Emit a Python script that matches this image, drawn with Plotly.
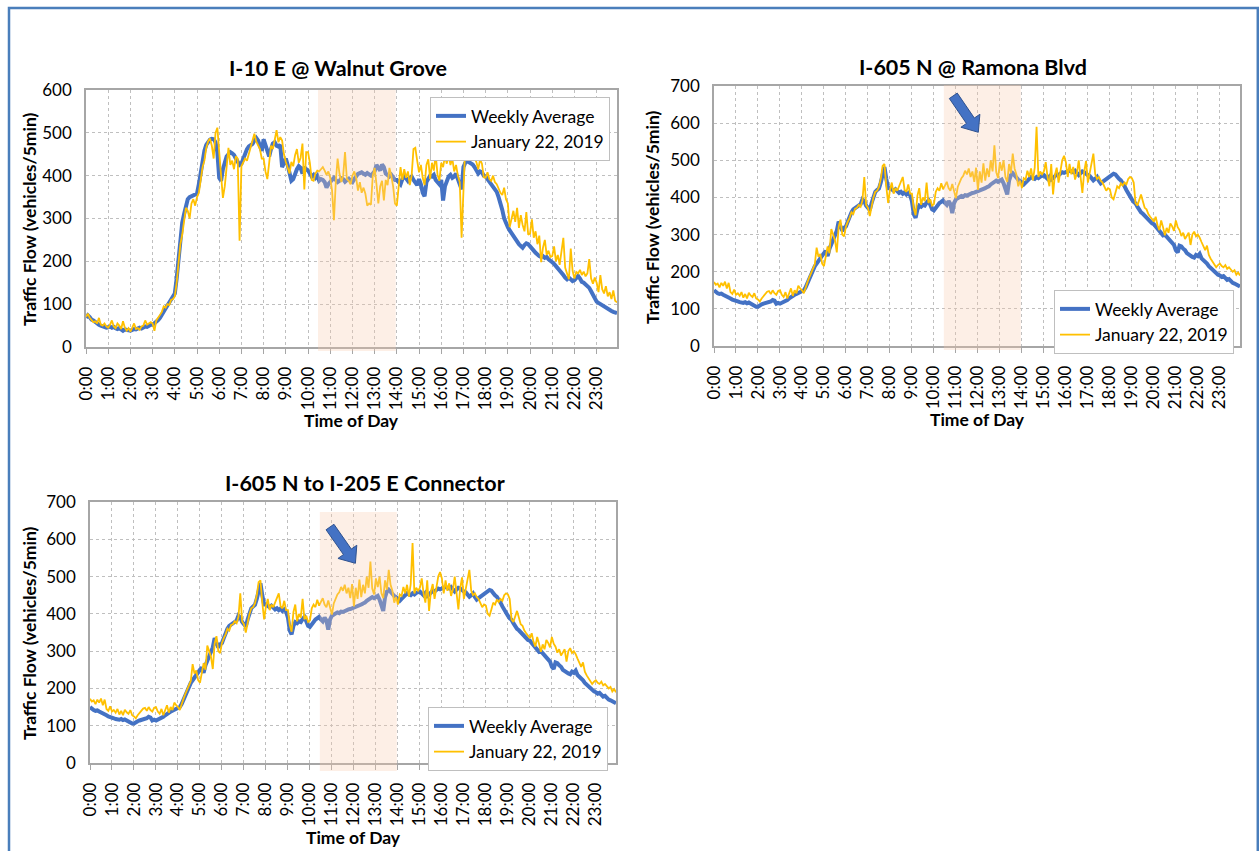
import math
import plotly.graph_objects as go

W, H = 1259, 851

# ---------------- data (vehicles / 5 min, one row per hour, 5-minute steps) ----------------
HOUR_LABELS = ["0:00", "1:00", "2:00", "3:00", "4:00", "5:00", "6:00", "7:00", "8:00", "9:00",
               "10:00", "11:00", "12:00", "13:00", "14:00", "15:00", "16:00", "17:00", "18:00",
               "19:00", "20:00", "21:00", "22:00", "23:00"]
STEPS_PER_HOUR = 12

WALNUT_AVG = [
    68, 74, 70, 64, 62, 58, 56, 52, 50, 48, 46, 45,
    46, 48, 45, 47, 44, 42, 44, 40, 38, 41, 40, 38,
    38, 40, 42, 41, 44, 45, 43, 46, 48, 47, 50, 52,
    52, 55, 58, 63, 68, 74, 82, 90, 97, 105, 112, 118,
    125, 160, 210, 260, 290, 310, 330, 345, 350, 352, 352, 355,
    358, 380, 410, 435, 458, 472, 480, 484, 486, 485, 478, 455,
    395, 388, 415, 435, 445, 450, 455, 452, 448, 440, 430, 425,
    428, 440, 452, 462, 468, 470, 474, 482, 488, 482, 470, 458,
    485, 470, 455, 445, 462, 475, 478, 470, 468, 472, 420, 430,
    440, 425, 405, 388, 392, 405, 415, 422, 418, 405, 420, 415,
    412, 405, 398, 402, 395, 400, 388, 392, 390, 385, 372, 380,
    386, 392, 395, 390, 385, 388, 394, 392, 386, 390, 393, 388,
    385, 392, 400, 404, 406, 408, 405, 402, 406, 404, 400, 405,
    410, 425, 418, 412, 426, 420, 405, 400, 398, 402, 396, 390,
    390, 385, 380, 392, 398, 394, 388, 395, 398, 390, 385, 378,
    392, 380, 360, 352, 385, 395, 400, 398, 402, 390, 385, 380,
    390, 342, 375, 390, 398, 402, 395, 398, 405, 392, 380, 368,
    420, 430, 434, 432, 430, 426, 420, 412, 405, 410, 408, 400,
    398, 392, 386, 380, 376, 370, 362, 350, 338, 320, 300, 288,
    280, 272, 265, 258, 250, 246, 240, 236, 232, 238, 242, 240,
    236, 230, 225, 220, 215, 212, 210, 212, 208, 210, 205, 200,
    198, 194, 188, 184, 178, 172, 168, 162, 158, 162, 158, 154,
    156, 162, 166, 160, 152, 150, 146, 142, 138, 130, 122, 112,
    106, 103, 100, 98, 95, 92, 88, 86, 84, 82, 80, 79,
]

WALNUT_JAN22 = [
    70, 78, 68, 62, 58, 60, 55, 68, 52, 50, 55, 48,
    45, 52, 62, 48, 44, 55, 50, 42, 60, 45, 38, 44,
    36, 45, 55, 42, 44, 40, 48, 50, 62, 52, 55, 58,
    55, 38, 62, 70, 75, 82, 95, 92, 100, 98, 110, 112,
    118, 150, 190, 240, 262, 300, 325, 318, 300, 335, 345, 330,
    350, 360, 388, 420, 435, 465, 480, 487, 470, 440, 500, 512,
    455, 400, 348, 375, 430, 465, 425, 435, 415, 445, 440, 248,
    422, 430, 440, 435, 450, 462, 480, 498, 480, 470, 462, 440,
    440, 410, 392, 430, 470, 462, 488, 506, 478, 490, 482, 450,
    432, 415, 405, 432, 422, 448, 462, 430, 442, 475, 368, 455,
    455, 430, 390, 388, 405, 412, 410, 415, 420, 412, 402, 410,
    395, 365, 296, 385, 440, 405, 385, 400, 455, 392, 388, 380,
    400, 410, 395, 365, 385, 360, 372, 358, 330, 335, 332, 400,
    418, 380, 335, 375, 388, 342, 390, 378, 418, 400, 375, 335,
    330, 375, 420, 390, 415, 395, 410, 378, 400, 462, 465, 435,
    408, 425, 395, 378, 425, 438, 392, 430, 412, 450, 402, 388,
    430, 420, 445, 428, 448, 425, 440, 410, 425, 400, 385, 255,
    350, 472, 462, 478, 450, 465, 440, 432, 415, 438, 428, 396,
    395, 408, 392, 388, 400, 385, 380, 370, 360, 355, 372, 345,
    335, 280, 300, 318, 292, 325, 278, 308, 285, 270, 315, 262,
    265, 298, 255, 270, 240, 260, 198, 232, 250, 215, 225, 210,
    212, 235, 200, 215, 192, 225, 255, 185, 170, 158, 230, 178,
    160, 175, 172, 180, 168, 176, 165, 172, 205, 160, 148, 162,
    150, 128, 168, 135, 125, 142, 118, 128, 112, 132, 108, 104,
]

RAMONA_AVG = [
    150, 145, 142, 140, 141, 138, 136, 134, 132, 128, 125, 124,
    122, 120, 118, 117, 116, 118, 115, 117, 114, 112, 108, 106,
    106, 110, 112, 114, 115, 116, 118, 120, 124, 122, 114, 116,
    114, 116, 118, 120, 124, 128, 132, 134, 138, 140, 142, 144,
    146, 150, 158, 170, 182, 195, 205, 215, 222, 230, 238, 245,
    250, 256, 242, 262, 275, 290, 300, 310, 335, 325, 310, 318,
    322, 335, 350, 360, 368, 372, 375, 378, 382, 395, 390, 378,
    372, 366, 385, 402, 415, 420, 424, 440, 468, 482, 450, 425,
    425, 420, 418, 422, 416, 412, 415, 410, 414, 408, 412, 406,
    390, 355, 345, 368, 378, 375, 380, 378, 386, 392, 380, 368,
    365, 372, 380, 385, 388, 392, 385, 380, 390, 382, 358, 385,
    395, 398, 400, 404, 402, 406, 405, 408, 410, 412, 413, 415,
    415, 418, 420, 422, 425, 428, 430, 435, 438, 442, 445, 442,
    445, 448, 438, 425, 408, 445, 460, 465, 458, 452, 448, 445,
    440, 435, 440, 445, 450, 455, 452, 450, 455, 452, 456, 458,
    460, 455, 450, 456, 448, 452, 458, 462, 460, 465, 468, 466,
    468, 470, 472, 470, 468, 472, 466, 460, 465, 470, 468, 462,
    460, 458, 452, 446, 450, 455, 445, 438, 442, 446, 448, 452,
    455, 460, 464, 462, 455, 450, 446, 440, 430, 420, 410, 400,
    395, 388, 384, 375, 365, 360, 356, 350, 346, 340, 334, 330,
    328, 322, 318, 312, 305, 298, 300, 294, 290, 285, 280, 272,
    258, 252, 270, 268, 262, 258, 250, 246, 242, 240, 238, 245,
    242, 248, 236, 232, 228, 222, 215, 210, 206, 202, 198, 192,
    190, 186, 188, 182, 178, 180, 174, 170, 168, 165, 162, 160,
]

RAMONA_JAN22 = [
    172, 165, 168, 158, 170, 162, 173, 155, 170, 145, 140, 152,
    138, 142, 135, 145, 130, 140, 128, 143, 136, 132, 142, 128,
    125, 120, 128, 135, 140, 146, 148, 140, 150, 142, 138, 148,
    150, 138, 132, 145, 128, 140, 155, 135, 150, 142, 162, 155,
    150, 142, 160, 172, 185, 198, 210, 220, 265, 240, 248, 222,
    215, 245, 268, 250, 315, 300, 285, 252, 320, 340, 300, 295,
    322, 335, 345, 360, 355, 370, 372, 380, 375, 392, 455, 380,
    372, 350, 378, 400, 415, 418, 428, 450, 485, 490, 430, 385,
    420, 440, 410, 425, 418, 432, 445, 455, 420, 415, 435, 410,
    410, 370, 352, 405, 425, 380, 400, 390, 440, 385, 395, 378,
    382, 415, 425, 418, 438, 422, 432, 442, 425, 418, 436, 420,
    398, 428, 440, 452, 458, 472, 462, 478, 455, 470, 442, 480,
    420, 470, 440, 492, 445, 478, 455, 500, 470, 540, 468, 452,
    495, 472, 500, 455, 442, 490, 465, 518, 478, 462, 430, 445,
    425, 452, 448, 472, 455, 478, 446, 480, 590, 455, 470, 462,
    470, 495, 455, 430, 490, 408, 460, 480, 440, 465, 500, 512,
    495, 455, 490, 462, 482, 448, 465, 500, 455, 412, 470, 498,
    440, 468, 495, 518, 462, 450, 455, 445, 440, 430, 418, 425,
    422, 400, 395, 412, 430, 425, 438, 432, 440, 435, 450, 455,
    452, 440, 385, 378, 395, 408, 390, 372, 368, 355, 348, 340,
    335, 348, 325, 312, 338, 320, 298, 318, 305, 330, 322, 310,
    338, 320, 312, 296, 305, 288, 298, 305, 272, 300, 308, 295,
    300, 292, 280, 268, 258, 270, 245, 235, 228, 222, 212, 218,
    222, 215, 212, 218, 208, 212, 205, 200, 204, 192, 198, 190,
]

# The connector chart in the reference shows the same two curves as Ramona Blvd.
CONNECTOR_AVG = list(RAMONA_AVG)
CONNECTOR_JAN22 = list(RAMONA_JAN22)

SERIES_NAMES = ["Weekly Average", "January 22, 2019"]
TITLES = ["I-10 E @ Walnut Grove", "I-605 N @ Ramona Blvd", "I-605 N to I-205 E Connector"]
Y_MAX = [600, 700, 700]
HIGHLIGHT_START, HIGHLIGHT_END = 10.45, 13.95   # shaded window (hours)

# ---------------- styling ----------------
BLUE = "#4472C4"
YELLOW = "#FFC000"
GRID = "#BFBFBF"
BORDER = "#A6A6A6"
FONT = "Lato"

TIME = [i / STEPS_PER_HOUR for i in range(len(WALNUT_AVG))]
XMAX = TIME[-1]


def px_x(v):
    return v / W


def px_y(v):
    return 1 - v / H


# plot boxes in pixels: left, right, top, bottom
BOXES = [(86, 617, 90, 347), (714, 1240, 86, 346), (90, 616, 502, 763)]
LEGEND_BOXES = [(610, 97), (1234, 290), (608, 707)]   # right, top
SHADE_Y = [(90, 351), (85, 350), (512, 771)]
TITLE_POS = [(338, 68), (973, 67), (365, 483)]
YTITLE_POS = [(29, 219), (653, 217), (29, 633)]
XTITLE_POS = [(351, 420), (977, 419), (353, 837)]

DATA = [(WALNUT_AVG, WALNUT_JAN22), (RAMONA_AVG, RAMONA_JAN22), (CONNECTOR_AVG, CONNECTOR_JAN22)]

fig = go.Figure()
layout = dict(
    width=W, height=H, margin=dict(l=0, r=0, t=0, b=0, autoexpand=False),
    paper_bgcolor="white", plot_bgcolor="white", showlegend=True,
    font=dict(family=FONT, color="#000000"),
)
annotations = []
shapes = []

for k in range(3):
    sfx = "" if k == 0 else str(k + 1)
    xa, ya = "x" + sfx, "y" + sfx
    leg = "legend" + sfx
    avg, day = DATA[k]
    fig.add_trace(go.Scatter(x=TIME, y=avg, mode="lines", name=SERIES_NAMES[0],
                             line=dict(color=BLUE, width=4), xaxis=xa, yaxis=ya, legend=leg))
    fig.add_trace(go.Scatter(x=TIME, y=day, mode="lines", name=SERIES_NAMES[1],
                             line=dict(color=YELLOW, width=1.8), xaxis=xa, yaxis=ya, legend=leg))
    l, r, t, b = BOXES[k]
    layout["xaxis" + sfx] = dict(
        domain=[px_x(l), px_x(r)], anchor=ya, range=[0, XMAX],
        tickvals=list(range(24)), ticktext=HOUR_LABELS, tickangle=-90,
        showgrid=True, gridcolor=GRID, griddash="dot", gridwidth=1,
        showline=True, mirror=True, linecolor=BORDER, linewidth=1.5,
        ticks="outside", ticklen=5, tickcolor=BORDER, zeroline=False, automargin=False,
        tickfont=dict(family=FONT, size=17, color="#000000"), ticklabelstandoff=6,
    )
    layout["yaxis" + sfx] = dict(
        domain=[px_y(b), px_y(t)], anchor=xa, range=[0, Y_MAX[k]], dtick=100,
        showgrid=True, gridcolor=GRID, griddash="dot", gridwidth=1,
        showline=True, mirror=True, linecolor=BORDER, linewidth=1.5,
        ticks="", zeroline=False, automargin=False,
        tickfont=dict(family=FONT, size=17, color="#000000"), ticklabelstandoff=9,
    )
    lr, lt = LEGEND_BOXES[k]
    layout[leg] = dict(
        x=px_x(lr), xanchor="right", y=px_y(lt), yanchor="top",
        bgcolor="white", bordercolor=GRID, borderwidth=1,
        font=dict(family=FONT, size=17.5, color="#000000"), tracegroupgap=0,
    )
    # shaded window drawn above traces (washes the weekly-average line as in the original)
    sy0, sy1 = SHADE_Y[k]
    shapes.append(dict(type="rect", xref=xa + " domain", yref="paper",
                       x0=HIGHLIGHT_START / XMAX, x1=HIGHLIGHT_END / XMAX,
                       y0=px_y(sy1), y1=px_y(sy0), layer="above",
                       fillcolor="rgba(247,203,172,0.3)", line=dict(width=0)))
    tx, ty = TITLE_POS[k]
    annotations.append(dict(text="<b>" + TITLES[k] + "</b>", x=px_x(tx), y=px_y(ty),
                            xref="paper", yref="paper", showarrow=False,
                            xanchor="center", yanchor="middle",
                            font=dict(family=FONT, size=21.5, color="#000000")))
    yx, yy = YTITLE_POS[k]
    annotations.append(dict(text="<b>Traffic Flow (vehicles/5min)</b>", x=px_x(yx), y=px_y(yy),
                            xref="paper", yref="paper", showarrow=False, textangle=-90,
                            xanchor="center", yanchor="middle",
                            font=dict(family=FONT, size=17.5, color="#000000")))
    xx, xy = XTITLE_POS[k]
    annotations.append(dict(text="<b>Time of Day</b>", x=px_x(xx), y=px_y(xy),
                            xref="paper", yref="paper", showarrow=False,
                            xanchor="center", yanchor="middle",
                            font=dict(family=FONT, size=17.5, color="#000000")))


def block_arrow(tail, tip, shaft_half=4.8, head_half=11.5, head_len=14):
    dx, dy = tip[0] - tail[0], tip[1] - tail[1]
    L = math.hypot(dx, dy)
    ux, uy = dx / L, dy / L
    nx, ny = -uy, ux
    bx, by = tip[0] - ux * head_len, tip[1] - uy * head_len
    pts = [
        (tail[0] + nx * shaft_half, tail[1] + ny * shaft_half),
        (bx + nx * shaft_half, by + ny * shaft_half),
        (bx + nx * head_half, by + ny * head_half),
        tip,
        (bx - nx * head_half, by - ny * head_half),
        (bx - nx * shaft_half, by - ny * shaft_half),
        (tail[0] - nx * shaft_half, tail[1] - ny * shaft_half),
    ]
    return "M " + " L ".join(f"{px_x(x):.5f},{px_y(y):.5f}" for x, y in pts) + " Z"


for tail, tip in [((953.3, 95.8), (978.3, 132.3)), ((330.0, 527.0), (355.4, 563.3))]:
    shapes.append(dict(type="path", xref="paper", yref="paper", path=block_arrow(tail, tip),
                       fillcolor=BLUE, line=dict(color="#2F528F", width=1), layer="above"))

# outer frame
shapes.append(dict(type="rect", xref="paper", yref="paper",
                   x0=px_x(9), x1=px_x(1257.8), y0=-0.05, y1=px_y(8),
                   line=dict(color="#4A7EBB", width=2.5), fillcolor="rgba(0,0,0,0)", layer="below"))

layout["annotations"] = annotations
layout["shapes"] = shapes
fig.update_layout(**layout)
fig.write_html(
    "out.html",
    config={"displayModeBar": False},
    post_script="document.body.style.margin='0px';document.body.style.padding='0px';"
                "document.body.style.overflow='hidden';",
)
